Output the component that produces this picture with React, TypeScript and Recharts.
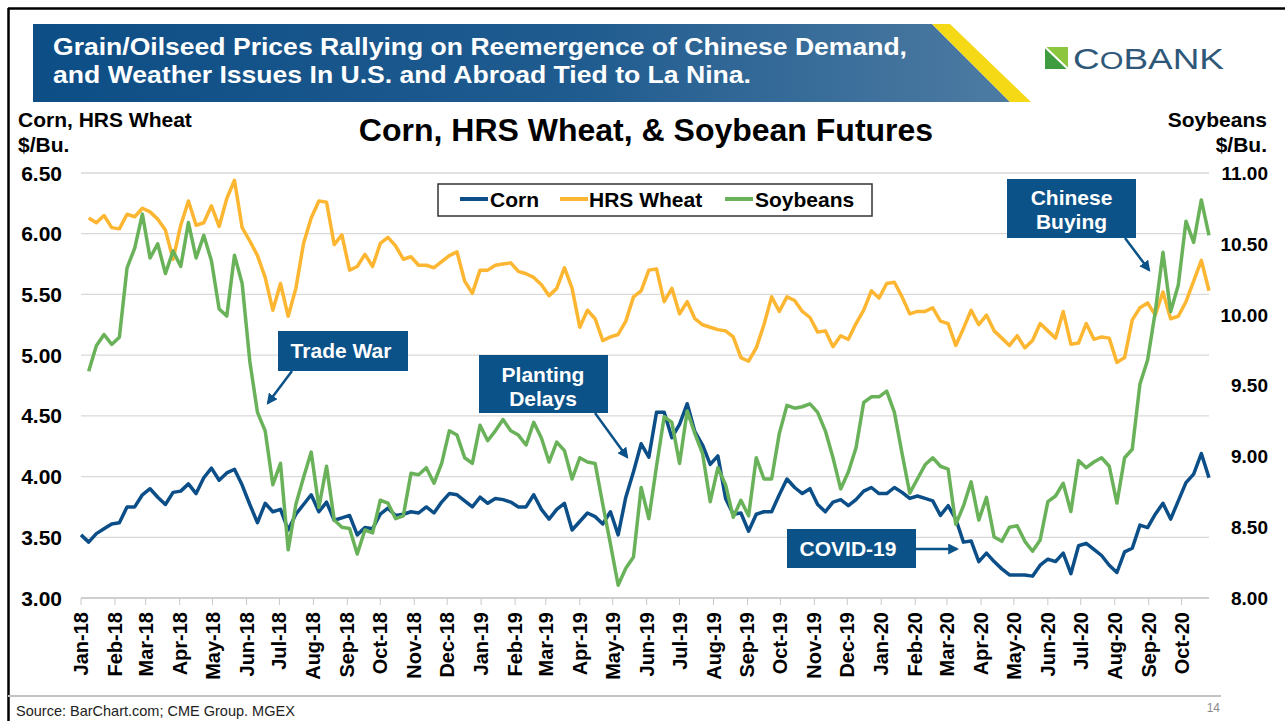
import React from 'react';
import { LineChart, Line, XAxis, YAxis, CartesianGrid } from 'recharts';

const FONT = '"Liberation Sans", Arial, Helvetica, sans-serif';

// Weekly futures prices, first week of Jan-2018 through early Nov-2020
const CORN: (number | null)[] = [
  3.52, 3.46, 3.53, 3.57, 3.61, 3.62, 3.75, 3.75, 3.85, 3.90,
  3.83, 3.77, 3.87, 3.88, 3.94, 3.86, 3.99, 4.07, 3.97, 4.03,
  4.06, 3.93, 3.77, 3.62, 3.78, 3.71, 3.73, 3.56, 3.69, 3.77,
  3.85, 3.71, 3.79, 3.64, 3.66, 3.68, 3.52, 3.58, 3.57, 3.69,
  3.74, 3.68, 3.69, 3.71, 3.70, 3.75, 3.70, 3.79, 3.86, 3.85,
  3.80, 3.75, 3.83, 3.78, 3.82, 3.81, 3.79, 3.75, 3.75, 3.85,
  3.73, 3.65, 3.73, 3.78, 3.56, 3.63, 3.70, 3.67, 3.61, 3.71,
  3.52, 3.83, 4.04, 4.27, 4.16, 4.53, 4.53, 4.32, 4.43, 4.60,
  4.37, 4.26, 4.10, 4.17, 3.82, 3.69, 3.70, 3.55, 3.69, 3.71,
  3.71, 3.85, 3.98, 3.91, 3.86, 3.90, 3.77, 3.71, 3.79, 3.81,
  3.76, 3.81, 3.88, 3.91, 3.86, 3.86, 3.91, 3.87, 3.82, 3.84,
  3.82, 3.80, 3.68, 3.76, 3.65, 3.46, 3.47, 3.30, 3.37, 3.30,
  3.24, 3.19, 3.19, 3.19, 3.18, 3.27, 3.32, 3.30, 3.37, 3.20,
  3.43, 3.45, 3.40, 3.35, 3.27, 3.21, 3.38, 3.41, 3.60, 3.58,
  3.69, 3.78, 3.65, 3.80, 3.95, 4.02, 4.19, 3.99,
];

const WHEAT: (number | null)[] = [
  null, 6.13, 6.09, 6.15, 6.05, 6.04, 6.16, 6.14, 6.21, 6.18,
  6.12, 6.03, 5.79, 6.07, 6.27, 6.07, 6.09, 6.23, 6.06, 6.29,
  6.44, 6.05, 5.94, 5.82, 5.64, 5.37, 5.59, 5.32, 5.55, 5.92,
  6.13, 6.27, 6.26, 5.91, 5.99, 5.70, 5.73, 5.83, 5.73, 5.92,
  5.97, 5.90, 5.79, 5.81, 5.74, 5.74, 5.72, 5.77, 5.82, 5.85,
  5.61, 5.51, 5.70, 5.70, 5.74, 5.75, 5.76, 5.69, 5.67, 5.64,
  5.58, 5.49, 5.55, 5.72, 5.55, 5.23, 5.37, 5.30, 5.12, 5.15,
  5.17, 5.28, 5.48, 5.53, 5.70, 5.71, 5.44, 5.55, 5.34, 5.44,
  5.30, 5.25, 5.23, 5.21, 5.20, 5.15, 4.98, 4.95, 5.06, 5.25,
  5.48, 5.36, 5.48, 5.45, 5.36, 5.31, 5.19, 5.20, 5.07, 5.16,
  5.13, 5.26, 5.37, 5.53, 5.47, 5.59, 5.60, 5.48, 5.34, 5.36,
  5.36, 5.39, 5.28, 5.26, 5.08, 5.22, 5.37, 5.25, 5.33, 5.20,
  5.14, 5.08, 5.16, 5.06, 5.12, 5.26, 5.20, 5.14, 5.36, 5.09,
  5.10, 5.26, 5.13, 5.15, 5.14, 4.94, 4.98, 5.29, 5.39, 5.43,
  5.33, 5.52, 5.30, 5.32, 5.44, 5.61, 5.78, 5.53,
];

const SOY: (number | null)[] = [
  null, 9.60, 9.78, 9.86, 9.79, 9.84, 10.33, 10.47, 10.71, 10.40,
  10.50, 10.29, 10.45, 10.34, 10.65, 10.40, 10.56, 10.38, 10.04, 9.99,
  10.42, 10.22, 9.67, 9.31, 9.18, 8.80, 8.95, 8.34, 8.66, 8.85,
  9.03, 8.64, 8.93, 8.55, 8.50, 8.49, 8.31, 8.48, 8.46, 8.69,
  8.67, 8.56, 8.58, 8.88, 8.87, 8.92, 8.81, 8.95, 9.18, 9.15,
  8.99, 8.95, 9.22, 9.11, 9.18, 9.26, 9.18, 9.15, 9.08, 9.24,
  9.13, 8.96, 9.10, 9.04, 8.84, 8.99, 8.96, 8.95, 8.66, 8.38,
  8.09, 8.21, 8.29, 8.78, 8.56, 8.93, 9.28, 9.24, 8.95, 9.32,
  9.16, 9.02, 8.68, 8.92, 8.80, 8.57, 8.69, 8.58, 8.99, 8.84,
  8.84, 9.16, 9.36, 9.34, 9.35, 9.37, 9.31, 9.18, 8.99, 8.77,
  8.89, 9.06, 9.38, 9.42, 9.42, 9.46, 9.31, 9.02, 8.74, 8.84,
  8.94, 8.99, 8.93, 8.91, 8.52, 8.65, 8.82, 8.55, 8.71, 8.43,
  8.40, 8.50, 8.51, 8.40, 8.33, 8.41, 8.68, 8.72, 8.81, 8.61,
  8.97, 8.92, 8.96, 8.99, 8.93, 8.67, 8.99, 9.05, 9.51, 9.68,
  10.02, 10.44, 10.02, 10.21, 10.66, 10.51, 10.81, 10.56,
];

// Month tick positions (days since 1-Jan-2018) and their labels
const MONTH_DAYS = [
  0, 31, 59, 90, 120, 151, 181, 212, 243, 273, 304, 334,
  365, 396, 424, 455, 485, 516, 546, 577, 608, 638, 669, 699,
  730, 761, 790, 821, 851, 882, 912, 943, 974, 1004,
];
const MONTH_LABELS = [
  'Jan-18', 'Feb-18', 'Mar-18', 'Apr-18', 'May-18', 'Jun-18', 'Jul-18', 'Aug-18', 'Sep-18', 'Oct-18', 'Nov-18', 'Dec-18',
  'Jan-19', 'Feb-19', 'Mar-19', 'Apr-19', 'May-19', 'Jun-19', 'Jul-19', 'Aug-19', 'Sep-19', 'Oct-19', 'Nov-19', 'Dec-19',
  'Jan-20', 'Feb-20', 'Mar-20', 'Apr-20', 'May-20', 'Jun-20', 'Jul-20', 'Aug-20', 'Sep-20', 'Oct-20',
];

const LEFT_TICKS = [3, 3.5, 4, 4.5, 5, 5.5, 6, 6.5];
const RIGHT_TICKS = [8, 8.5, 9, 9.5, 10, 10.5, 11];

const SERIES = [
  { key: 'corn', name: 'Corn', color: '#0c4f88', axis: 'left' },
  { key: 'wheat', name: 'HRS Wheat', color: '#fdb631', axis: 'left' },
  { key: 'soy', name: 'Soybeans', color: '#6ab25a', axis: 'right' },
];

const data = CORN.map((c, i) => ({ day: i * 7, corn: c, wheat: WHEAT[i], soy: SOY[i] }));

const BLUE = '#0b5289';

const renderXTick = (props: any) => {
  const { x, payload } = props;
  const idx = MONTH_DAYS.indexOf(payload.value);
  return (
    <text
      transform={`translate(${x + 7},612) rotate(-90)`}
      textAnchor="end"
      fontSize={20}
      fontWeight={700}
      fontFamily={FONT}
      fill="#000"
    >
      {MONTH_LABELS[idx]}
    </text>
  );
};

const renderLeftTick = (props: any) => {
  const { y, payload } = props;
  return (
    <text x={62} y={y} dy="0.36em" textAnchor="end" fontSize={21} fontWeight={700} fontFamily={FONT} fill="#000">
      {Number(payload.value).toFixed(2)}
    </text>
  );
};

const renderRightTick = (props: any) => {
  const { y, payload } = props;
  return (
    <text x={1268} y={y} dy="0.36em" textAnchor="end" fontSize={19} fontWeight={700} fontFamily={FONT} fill="#000">
      {Number(payload.value).toFixed(2)}
    </text>
  );
};

const Overlay = () => (
  <svg
    width={1285}
    height={721}
    style={{ position: 'absolute', left: 0, top: 0, pointerEvents: 'none' }}
    fontFamily={FONT}
  >
    <defs>
      <linearGradient id="bannerGrad" x1="0" y1="0" x2="1" y2="0">
        <stop offset="0" stopColor="#0d4e86" />
        <stop offset="0.55" stopColor="#1f5b8f" />
        <stop offset="1" stopColor="#4d7ba2" />
      </linearGradient>
      <marker id="arrowHead" viewBox="0 0 10 10" refX="8" refY="5" markerWidth="11" markerHeight="11" markerUnits="userSpaceOnUse" orient="auto">
        <path d="M0,0 L10,5 L0,10 z" fill={BLUE} />
      </marker>
    </defs>

    {/* slide frame */}
    <line x1={8} y1={8.5} x2={1285} y2={8.5} stroke="#000" strokeWidth={2.5} />
    <line x1={8.5} y1={8} x2={8.5} y2={721} stroke="#000" strokeWidth={2.5} />

    {/* banner */}
    <polygon points="33,24 932,24 1010,102 33,102" fill="url(#bannerGrad)" />
    <polygon points="932,24 950,24 1031,102 1010,102" fill="#f5d916" />
    <text x={53} y={55} fontSize={24.5} fontWeight={700} fill="#fff" textLength={854} lengthAdjust="spacingAndGlyphs">
      Grain/Oilseed Prices Rallying on Reemergence of Chinese Demand,
    </text>
    <text x={53} y={83} fontSize={24.5} fontWeight={700} fill="#fff" textLength={698} lengthAdjust="spacingAndGlyphs">
      and Weather Issues In U.S. and Abroad Tied to La Nina.
    </text>

    {/* logo */}
    <rect x={1045} y={47} width={23} height={22} fill="#3f9b3f" />
    <polygon points="1045,47 1068,47 1068,69" fill="#8cc63f" />
    <line x1={1045} y1={47} x2={1068} y2={69} stroke="#fff" strokeWidth={2} />
    <text x={1073} y={69} fontSize={29} fill="#2f5878" textLength={151} lengthAdjust="spacingAndGlyphs">
      <tspan>C</tspan>
      <tspan fontSize={24}>O</tspan>
      <tspan>BANK</tspan>
    </text>

    {/* axis titles and chart title */}
    <text x={18} y={127} fontSize={21} fontWeight={700} fill="#000">Corn, HRS Wheat</text>
    <text x={18} y={152} fontSize={21} fontWeight={700} fill="#000">$/Bu.</text>
    <text x={1267} y={127} fontSize={21} fontWeight={700} fill="#000" textAnchor="end">Soybeans</text>
    <text x={1267} y={152} fontSize={21} fontWeight={700} fill="#000" textAnchor="end">$/Bu.</text>
    <text x={646} y={141} fontSize={32} fontWeight={700} fill="#000" textAnchor="middle">
      Corn, HRS Wheat, &amp; Soybean Futures
    </text>

    {/* legend */}
    <rect x={438} y={184} width={434} height={32} fill="#fff" stroke="#333" strokeWidth={1.5} />
    {[
      { s: SERIES[0], lx: 460, tx: 490 },
      { s: SERIES[1], lx: 560, tx: 589 },
      { s: SERIES[2], lx: 725, tx: 755 },
    ].map(({ s, lx, tx }) => (
      <g key={s.key}>
        <line x1={lx} y1={199} x2={lx + 28} y2={199} stroke={s.color} strokeWidth={4} />
        <text x={tx} y={207} fontSize={21} fontWeight={700} fill="#000">{s.name}</text>
      </g>
    ))}

    {/* annotations */}
    <rect x={278} y={331} width={130} height={40} fill={BLUE} />
    <text x={341} y={358} fontSize={21} fontWeight={700} fill="#fff" textAnchor="middle">Trade War</text>
    <line x1={292} y1={371} x2={268} y2={403} stroke={BLUE} strokeWidth={2.5} markerEnd="url(#arrowHead)" />

    <rect x={479} y={355} width={129} height={58} fill={BLUE} />
    <text x={543} y={382} fontSize={21} fontWeight={700} fill="#fff" textAnchor="middle">Planting</text>
    <text x={543} y={406} fontSize={21} fontWeight={700} fill="#fff" textAnchor="middle">Delays</text>
    <line x1={595} y1={413} x2={627} y2={457} stroke={BLUE} strokeWidth={2.5} markerEnd="url(#arrowHead)" />

    <rect x={787} y={529} width={129} height={39} fill={BLUE} />
    <text x={848} y={556} fontSize={21} fontWeight={700} fill="#fff" textAnchor="middle">COVID-19</text>
    <line x1={916} y1={549} x2={957} y2={549} stroke={BLUE} strokeWidth={2.5} markerEnd="url(#arrowHead)" />

    <rect x={1007} y={179} width={129} height={59} fill={BLUE} />
    <text x={1071.5} y={205} fontSize={21} fontWeight={700} fill="#fff" textAnchor="middle">Chinese</text>
    <text x={1071.5} y={229} fontSize={21} fontWeight={700} fill="#fff" textAnchor="middle">Buying</text>
    <line x1={1125} y1={238} x2={1149} y2={270} stroke={BLUE} strokeWidth={2.5} markerEnd="url(#arrowHead)" />

    {/* footer */}
    <line x1={8} y1={696} x2={1221} y2={696} stroke="#c3c3c3" strokeWidth={2} />
    <text x={16} y={716} fontSize={14.5} fill="#222">Source: BarChart.com; CME Group. MGEX</text>
    <text x={1220} y={712} fontSize={12} fill="#8a8a8a" textAnchor="end">14</text>
  </svg>
);

export default function App() {
  return (
    <div
      style={{
        position: 'absolute',
        left: 0,
        top: 0,
        width: 1285,
        height: 721,
        background: '#fff',
        overflow: 'hidden',
        fontFamily: FONT,
      }}
    >
      <div style={{ position: 'absolute', left: 0, top: 0 }}>
        <LineChart width={1285} height={721} data={data} margin={{ top: 173, right: 16, bottom: 63, left: 21 }}>
          <CartesianGrid yAxisId="left" vertical={false} stroke="#d9d9d9" strokeWidth={1.3} />
          <XAxis
            dataKey="day"
            type="number"
            domain={[0, 1029]}
            ticks={MONTH_DAYS}
            interval={0}
            height={60}
            axisLine={{ stroke: '#c8c8c8', strokeWidth: 1.5 }}
            tickLine={{ stroke: '#c8c8c8' }}
            tickSize={7}
            tick={renderXTick}
          />
          <YAxis
            yAxisId="left"
            domain={[3, 6.5]}
            ticks={LEFT_TICKS}
            interval={0}
            width={60}
            axisLine={false}
            tickLine={false}
            tick={renderLeftTick}
          />
          <YAxis
            yAxisId="right"
            orientation="right"
            domain={[8, 11]}
            ticks={RIGHT_TICKS}
            interval={0}
            width={60}
            axisLine={false}
            tickLine={false}
            tick={renderRightTick}
          />
          {SERIES.map((s) => (
            <Line
              key={s.key}
              yAxisId={s.axis}
              type="linear"
              dataKey={s.key}
              name={s.name}
              stroke={s.color}
              strokeWidth={3.5}
              strokeLinejoin="round"
              dot={false}
              activeDot={false}
              isAnimationActive={false}
            />
          ))}
        </LineChart>
      </div>
      <Overlay />
    </div>
  );
}
